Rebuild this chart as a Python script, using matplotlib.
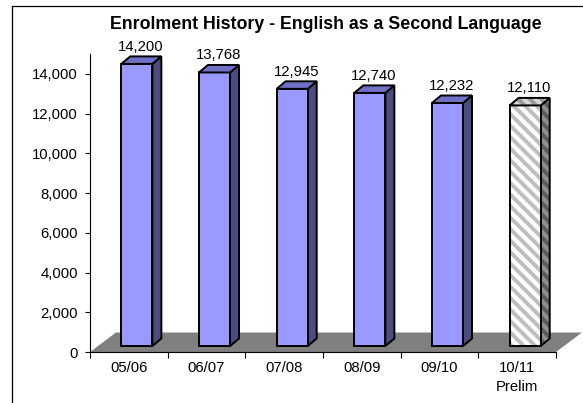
import matplotlib
matplotlib.use("Agg")
import matplotlib.pyplot as plt
from matplotlib.patches import Polygon
from matplotlib.lines import Line2D
from matplotlib.transforms import IdentityTransform
import numpy as np

# ---- data -------------------------------------------------------------
years = ["05/06", "06/07", "07/08", "08/09", "09/10", "10/11\nPrelim"]
enrolment = [14200, 13768, 12945, 12740, 12232, 12110]
preliminary = [False, False, False, False, False, True]
y_ticks = [0, 2000, 4000, 6000, 8000, 10000, 12000, 14000]
y_max = 15000
title = "Enrolment History - English as a Second Language"

# ---- figure / axes ------------------------------------------------------
W, H, DPI = 583, 403, 100
plt.rcParams['font.family'] = ['Liberation Sans', 'DejaVu Sans']
fig = plt.figure(figsize=(W / DPI, H / DPI), dpi=DPI)
fig.patch.set_facecolor('white')

ax = fig.add_axes([90 / W, 1 - 352 / H, 466 / W, 298 / H])
ax.set_xlim(0, len(years))
ax.set_ylim(0, y_max)
ax.set_autoscale_on(False)
ax.patch.set_visible(False)
for s in ('top', 'right'):
    ax.spines[s].set_visible(False)
for s in ('left', 'bottom'):
    ax.spines[s].set_linewidth(0.8)
    ax.spines[s].set_color('black')
    ax.spines[s].set_zorder(2)

FS = 10.7
ax.set_yticks(y_ticks)
ax.set_yticklabels([f"{t:,}" for t in y_ticks])
ax.tick_params(axis='y', direction='out', length=3.6, width=0.8, pad=5,
               labelsize=FS, colors='black')
ax.set_xticks(np.arange(len(years) + 1))
ax.set_xticklabels([])
ax.set_xticks(np.arange(len(years)) + 0.5, minor=True)
ax.set_xticklabels(years, minor=True, linespacing=1.45)
ax.tick_params(axis='x', which='major', direction='out', length=4.3, width=0.8)
ax.tick_params(axis='x', which='minor', length=0, pad=6.5, labelsize=FS)

# ---- pseudo-3D geometry (display pixels) --------------------------------
floor_depth = np.array([26.0, 19.5])
front_shift = np.array([8.0, 6.0])
bar_depth = np.array([9.0, 7.5])
bar_width = 0.40
ID = IdentityTransform()


def disp(x, y):
    return np.asarray(ax.transData.transform((x, y)), dtype=float)


def face(pts, fc, z, lw=1.4, ec='black'):
    p = Polygon(pts, closed=True, facecolor=fc, edgecolor=ec, linewidth=lw,
                joinstyle='miter', transform=ID, clip_on=False, zorder=z)
    ax.add_patch(p)
    return p


def striped(pts, base, stripe, z, period=11.5, width=3.0):
    """Fill a face with diagonal stripes running top-left to bottom-right."""
    p = face(pts, base, z, lw=0)
    pts = np.asarray(pts)
    s = pts[:, 0] + pts[:, 1]
    xmin, xmax = pts[:, 0].min() - 5, pts[:, 0].max() + 5
    c0 = np.floor(s.min() / period) * period
    for c in np.arange(c0, s.max() + period, period):
        ln = Line2D([xmin, xmax], [c - xmin, c - xmax], color=stripe,
                    linewidth=width, transform=ID, zorder=z + 0.1,
                    solid_capstyle='butt')
        ln.set_clip_path(p)
        ax.add_line(ln)
    face(pts, 'none', z + 0.2)


# floor
fl0, fr0 = disp(0, 0), disp(len(years), 0)
face([fl0, fr0, fr0 + floor_depth, fl0 + floor_depth], '#808080', 1, lw=0)

# bars
for i, (v, pre) in enumerate(zip(enrolment, preliminary)):
    x0, x1 = i + 0.5 - bar_width / 2, i + 0.5 + bar_width / 2
    bl = disp(x0, 0) + front_shift
    br = disp(x1, 0) + front_shift
    tr = disp(x1, v) + front_shift
    tl = disp(x0, v) + front_shift
    side = [br, tr, tr + bar_depth, br + bar_depth]
    front = [bl, br, tr, tl]
    top = [tl, tr, tr + bar_depth, tl + bar_depth]
    z = 5 + i
    if pre:
        striped(side, '#5C5C5C', '#8E8E8E', z)
        striped(front, '#BEBEBE', '#FFFFFF', z + 0.3)
        striped(top, '#9A9A9A', '#D6D6D6', z + 0.6)
    else:
        face(side, '#4C4C80', z)
        face(front, '#9999FF', z + 0.3)
        face(top, '#7070C6', z + 0.6)
    ax.annotate(f"{v:,}", xy=(i + 0.5, v), xytext=(12, 19),
                textcoords='offset pixels', ha='center', va='baseline',
                fontsize=FS, color='black', annotation_clip=False,
                zorder=20)

# title
fig.text(326 / W, 1 - 29 / H, title, ha='center', va='baseline',
         fontsize=12.8, fontweight='bold', color='black')

# chart-area border (left and top edges)
fig.add_artist(Line2D([12 / W, 12 / W], [0, 1 - 6 / H], color='black',
                      linewidth=0.9, transform=fig.transFigure))
fig.add_artist(Line2D([12 / W, 1], [1 - 6 / H, 1 - 6 / H], color='black',
                      linewidth=0.9, transform=fig.transFigure))

fig.savefig("out.png", dpi=DPI)
